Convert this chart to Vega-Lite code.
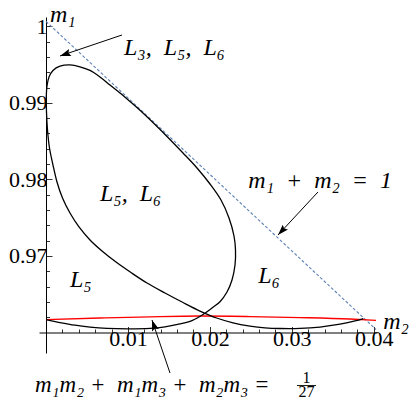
{
  "$schema": "https://vega.github.io/schema/vega-lite/v6.json",
  "width": 338,
  "height": 336,
  "autosize": {"type": "none"},
  "padding": {"left": 39, "top": 17, "right": 43, "bottom": 55},
  "background": "white",
  "config": {"view": {"stroke": null}},
  "datasets": {
    "black": [
      {"i": 1, "m2": 0.0, "m1": 0.9617},
      {"i": 2, "m2": 0.001709, "m1": 0.96131},
      {"i": 3, "m2": 0.003539, "m1": 0.96096},
      {"i": 4, "m2": 0.00537, "m1": 0.96072},
      {"i": 5, "m2": 0.007444, "m1": 0.96055},
      {"i": 6, "m2": 0.010007, "m1": 0.96049},
      {"i": 7, "m2": 0.012692, "m1": 0.96055},
      {"i": 8, "m2": 0.014523, "m1": 0.96075},
      {"i": 9, "m2": 0.016353, "m1": 0.96112},
      {"i": 10, "m2": 0.017818, "m1": 0.96157},
      {"i": 11, "m2": 0.01916, "m1": 0.96236},
      {"i": 12, "m2": 0.020259, "m1": 0.96321},
      {"i": 13, "m2": 0.021235, "m1": 0.96403},
      {"i": 14, "m2": 0.022089, "m1": 0.96529},
      {"i": 15, "m2": 0.0227, "m1": 0.96686},
      {"i": 16, "m2": 0.023066, "m1": 0.96882},
      {"i": 17, "m2": 0.023127, "m1": 0.97078},
      {"i": 18, "m2": 0.022944, "m1": 0.97261},
      {"i": 19, "m2": 0.022334, "m1": 0.97496},
      {"i": 20, "m2": 0.021357, "m1": 0.97731},
      {"i": 21, "m2": 0.020015, "m1": 0.9794},
      {"i": 22, "m2": 0.018428, "m1": 0.98149},
      {"i": 23, "m2": 0.01672, "m1": 0.98345},
      {"i": 24, "m2": 0.014889, "m1": 0.98548},
      {"i": 25, "m2": 0.013302, "m1": 0.98717},
      {"i": 26, "m2": 0.011472, "m1": 0.98903},
      {"i": 27, "m2": 0.010251, "m1": 0.99018},
      {"i": 28, "m2": 0.009031, "m1": 0.99129},
      {"i": 29, "m2": 0.007811, "m1": 0.99233},
      {"i": 30, "m2": 0.00659, "m1": 0.99338},
      {"i": 31, "m2": 0.00537, "m1": 0.99423},
      {"i": 32, "m2": 0.004149, "m1": 0.99471},
      {"i": 33, "m2": 0.002929, "m1": 0.99495},
      {"i": 34, "m2": 0.001709, "m1": 0.99478},
      {"i": 35, "m2": 0.000854, "m1": 0.99423},
      {"i": 36, "m2": 0.000366, "m1": 0.99338},
      {"i": 37, "m2": 0.000122, "m1": 0.9922},
      {"i": 38, "m2": 0.000037, "m1": 0.99077},
      {"i": 39, "m2": 0.000061, "m1": 0.98881},
      {"i": 40, "m2": 0.000183, "m1": 0.98645},
      {"i": 41, "m2": 0.000427, "m1": 0.9841},
      {"i": 42, "m2": 0.000854, "m1": 0.98188},
      {"i": 43, "m2": 0.001342, "m1": 0.97966},
      {"i": 44, "m2": 0.002014, "m1": 0.97757},
      {"i": 45, "m2": 0.002929, "m1": 0.97561},
      {"i": 46, "m2": 0.004027, "m1": 0.97379},
      {"i": 47, "m2": 0.005370, "m1": 0.97209},
      {"i": 48, "m2": 0.006834, "m1": 0.97065},
      {"i": 49, "m2": 0.008543, "m1": 0.96921},
      {"i": 50, "m2": 0.010373, "m1": 0.96784},
      {"i": 51, "m2": 0.012326, "m1": 0.96647},
      {"i": 52, "m2": 0.014523, "m1": 0.96516},
      {"i": 53, "m2": 0.016720, "m1": 0.96392},
      {"i": 54, "m2": 0.018794, "m1": 0.96281},
      {"i": 55, "m2": 0.020832, "m1": 0.9619},
      {"i": 56, "m2": 0.022822, "m1": 0.96127},
      {"i": 57, "m2": 0.024896, "m1": 0.96085},
      {"i": 58, "m2": 0.026727, "m1": 0.96062},
      {"i": 59, "m2": 0.028558, "m1": 0.96053},
      {"i": 60, "m2": 0.030998, "m1": 0.96054},
      {"i": 61, "m2": 0.033439, "m1": 0.96072},
      {"i": 62, "m2": 0.03588, "m1": 0.96109},
      {"i": 63, "m2": 0.037711, "m1": 0.96151},
      {"i": 64, "m2": 0.038724, "m1": 0.96183}
    ],
    "red": [
      {"i": 1, "m2": 0.0, "m1": 0.9617},
      {"i": 2, "m2": 0.00659, "m1": 0.9619},
      {"i": 3, "m2": 0.012692, "m1": 0.96206},
      {"i": 4, "m2": 0.018794, "m1": 0.96216},
      {"i": 5, "m2": 0.024896, "m1": 0.96209},
      {"i": 6, "m2": 0.030998, "m1": 0.96196},
      {"i": 7, "m2": 0.0371, "m1": 0.96177},
      {"i": 8, "m2": 0.040273, "m1": 0.9616}
    ],
    "blue": [
      {"i": 1, "m2": 0.0, "m1": 1.00063},
      {"i": 2, "m2": 0.040273, "m1": 0.9604}
    ],
    "arrows": [
      {"arrow": "a", "m2": 0.009275, "m1": 0.99886, "m2b": 0.001709, "m1b": 0.99612},
      {"arrow": "b", "m2": 0.033195, "m1": 0.97836, "m2b": 0.028314, "m1b": 0.97274},
      {"arrow": "c", "m2": 0.015133, "m1": 0.95472, "m2b": 0.012936, "m1b": 0.96164}
    ],
    "math": [
      {"m2": 0.009519, "m1": 0.99625, "text": "L₃,\u00a0 L₅,\u00a0 L₆"},
      {"m2": 0.00659, "m1": 0.97718, "text": "L₅,\u00a0 L₆"},
      {"m2": 0.002929, "m1": 0.96599, "text": "L₅"},
      {"m2": 0.025909, "m1": 0.96651, "text": "L₆"},
      {"m2": 0.024689, "m1": 0.97884, "text": "m₁\u00a0 + \u00a0m₂\u00a0 = \u00a01"},
      {"m2": 0.000488, "m1": 1.0006, "text": "m₁"},
      {"m2": 0.04115, "m1": 0.96045, "text": "m₂"}
    ],
    "formula": [
      {"m2": -0.001342, "m1": 0.95223, "text": "m₁m₂ + \u00a0m₁m₃ + \u00a0m₂m₃ ="}
    ],
    "frac": [
      {"m2": 0.031792, "m1": 0.95341, "text": "1"},
      {"m2": 0.031792, "m1": 0.95152, "text": "27"}
    ],
    "bar": [
      {"m2": 0.030632, "m2b": 0.032951, "m1": 0.95308}
    ]
  },
  "encoding": {
    "x": {
      "field": "m2",
      "type": "quantitative",
      "scale": {"domain": [-0.000854, 0.040395], "nice": false, "zero": false},
      "axis": {
        "title": null,
        "orient": "bottom",
        "offset": -20.5,
        "grid": false,
        "values": [0.002, 0.004, 0.006, 0.008, 0.01, 0.012, 0.014, 0.016, 0.018, 0.02, 0.022, 0.024, 0.026, 0.028, 0.03, 0.032, 0.034, 0.036, 0.038, 0.04],
        "labelExpr": "round(datum.value*1000) % 10 == 0 ? format(datum.value, '.2f') : ''",
        "tickSize": {"condition": {"test": "round(datum.value*1000) % 10 == 0", "value": -6}, "value": -3.5},
        "tickColor": "black",
        "tickWidth": 0.8,
        "domainColor": "black",
        "domainWidth": 1,
        "labelFont": "Liberation Serif",
        "labelFontSize": 22,
        "labelColor": "black",
        "labelPadding": 2,
        "labelOverlap": false,
        "labelFlush": false
      }
    },
    "y": {
      "field": "m1",
      "type": "quantitative",
      "scale": {"domain": [0.95733, 1.00121], "nice": false, "zero": false},
      "axis": {
        "title": null,
        "orient": "left",
        "offset": -7,
        "grid": false,
        "values": [0.962, 0.964, 0.966, 0.968, 0.97, 0.972, 0.974, 0.976, 0.978, 0.98, 0.982, 0.984, 0.986, 0.988, 0.99, 0.992, 0.994, 0.996, 0.998, 1],
        "labelExpr": "round(datum.value*1000) % 10 == 0 ? (datum.value > 0.9995 ? '1' : format(datum.value, '.2f')) : ''",
        "tickSize": {"condition": {"test": "round(datum.value*1000) % 10 == 0", "value": -6}, "value": -3.5},
        "tickColor": "black",
        "tickWidth": 0.8,
        "domainColor": "black",
        "domainWidth": 1,
        "labelFont": "Liberation Serif",
        "labelFontSize": 22,
        "labelColor": "black",
        "labelPadding": 5,
        "labelOverlap": false,
        "labelFlush": false
      }
    }
  },
  "layer": [
    {
      "data": {"name": "blue"},
      "mark": {"type": "line", "color": "#5e81b5", "strokeWidth": 1.1, "strokeDash": [3, 2]},
      "encoding": {"order": {"field": "i"}}
    },
    {
      "data": {"name": "red"},
      "mark": {"type": "line", "color": "#ff0000", "strokeWidth": 1.3, "interpolate": "monotone"},
      "encoding": {"order": {"field": "i"}}
    },
    {
      "data": {"name": "black"},
      "mark": {"type": "line", "color": "black", "strokeWidth": 1.3, "interpolate": "catmull-rom"},
      "encoding": {"order": {"field": "i"}}
    },
    {
      "data": {"name": "arrows"},
      "mark": {"type": "rule", "color": "black", "strokeWidth": 1},
      "encoding": {"x2": {"field": "m2b"}, "y2": {"field": "m1b"}}
    },
    {
      "data": {"name": "arrows"},
      "transform": [{"filter": "datum.arrow == 'a'"}],
      "mark": {"type": "point", "shape": "M0,0L-0.4,1.2L0,1L0.4,1.2Z", "filled": true, "color": "black", "opacity": 1, "size": 324, "angle": 251.3},
      "encoding": {"x": {"field": "m2b", "type": "quantitative"}, "y": {"field": "m1b", "type": "quantitative"}}
    },
    {
      "data": {"name": "arrows"},
      "transform": [{"filter": "datum.arrow == 'b'"}],
      "mark": {"type": "point", "shape": "M0,0L-0.4,1.2L0,1L0.4,1.2Z", "filled": true, "color": "black", "opacity": 1, "size": 324, "angle": 222.9},
      "encoding": {"x": {"field": "m2b", "type": "quantitative"}, "y": {"field": "m1b", "type": "quantitative"}}
    },
    {
      "data": {"name": "arrows"},
      "transform": [{"filter": "datum.arrow == 'c'"}],
      "mark": {"type": "point", "shape": "M0,0L-0.4,1.2L0,1L0.4,1.2Z", "filled": true, "color": "black", "opacity": 1, "size": 324, "angle": 341.2},
      "encoding": {"x": {"field": "m2b", "type": "quantitative"}, "y": {"field": "m1b", "type": "quantitative"}}
    },
    {
      "data": {"name": "math"},
      "mark": {"type": "text", "font": "Liberation Serif", "fontStyle": "italic", "fontSize": 24, "align": "left", "baseline": "alphabetic", "color": "black"},
      "encoding": {"text": {"field": "text"}}
    },
    {
      "data": {"name": "formula"},
      "mark": {"type": "text", "font": "Liberation Serif", "fontStyle": "italic", "fontSize": 23, "align": "left", "baseline": "alphabetic", "color": "black"},
      "encoding": {"text": {"field": "text"}}
    },
    {
      "data": {"name": "frac"},
      "mark": {"type": "text", "font": "Liberation Serif", "fontSize": 16, "align": "center", "baseline": "alphabetic", "color": "black"},
      "encoding": {"text": {"field": "text"}}
    },
    {
      "data": {"name": "bar"},
      "mark": {"type": "rule", "color": "black", "strokeWidth": 0.9},
      "encoding": {"x2": {"field": "m2b"}}
    }
  ]
}
